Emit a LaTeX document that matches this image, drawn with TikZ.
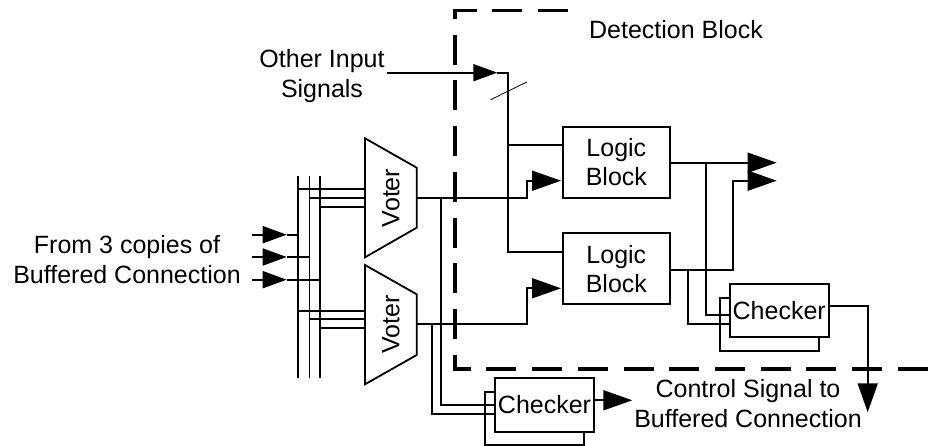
\documentclass[tikz,border=0pt]{standalone}
\usepackage{fontspec}
\setmainfont{Liberation Sans}
\usetikzlibrary{arrows.meta}
\tikzset{
  x=1pt,y=-1pt,
  wire/.style={line width=1.8pt,line join=miter},
  tipped/.style={wire,-{Triangle[length=29pt,width=20pt]}},
  tippedsmall/.style={wire,-{Triangle[length=24pt,width=17pt]}},
  block/.style={draw,wire,fill=white,inner sep=0pt,outer sep=0pt,align=center},
  logicblock/.style={block,minimum width=107.3pt,font=\fontsize{25}{29}\selectfont},
  checkbox/.style={block,minimum width=99pt,minimum height=53.3pt,font=\fontsize{25}{29}\selectfont},
  backbox/.style={draw,wire,fill=white,inner sep=0pt,outer sep=0pt,minimum width=99pt,minimum height=53.3pt},
  label/.style={inner sep=0pt,outer sep=0pt,align=center,font=\fontsize{25}{30}\selectfont},
  voter/.style={draw,wire,fill=white,line join=miter},
  region/.style={line width=3.5pt,dash pattern=on 30pt off 15.7pt}
}
\begin{document}
\begin{tikzpicture}
\useasboundingbox (0,0) rectangle (943,446);
% detection region
\draw[region] (568,10.7) -- (455,10.7) -- (455,369) -- (943,369);
% back boxes
\node[backbox] (chkAback) at (769.7,324.3) {};
\node[backbox] (chkBback) at (534.8,418.3) {};
% bus
\coordinate (busAtop) at (298,176); \coordinate (busAbot) at (298,378);
\coordinate (busBtop) at (309.5,176); \coordinate (busBbot) at (309.5,378);
\coordinate (busCtop) at (320,176); \coordinate (busCbot) at (320,378);
\draw[wire] (busAtop) -- (busAbot);
\draw[wire] (busBtop) -- (busBbot);
\draw[wire] (busCtop) -- (busCbot);
% voters
\coordinate (vAa) at (365,138.3); \coordinate (vAb) at (416.7,167.7);
\coordinate (vAc) at (416.7,227.7); \coordinate (vAd) at (365,257.3);
\coordinate (vBa) at (365,265); \coordinate (vBb) at (416.7,294.3);
\coordinate (vBc) at (416.7,355); \coordinate (vBd) at (365,384.3);
\draw[wire] (298,189.3) -- (365,189.3);
\draw[wire] (309.5,198.3) -- (365,198.3);
\draw[wire] (320,207.3) -- (365,207.3);
\draw[wire] (298,310.7) -- (365,310.7);
\draw[wire] (309.5,319.3) -- (365,319.3);
\draw[wire] (320,328.3) -- (365,328.3);
\draw[voter] (vAa) -- (vAb) -- (vAc) -- (vAd) -- cycle;
\draw[voter] (vBa) -- (vBb) -- (vBc) -- (vBd) -- cycle;
\node[label,rotate=90] (voterA) at (391,198) {Voter};
\node[label,rotate=90] (voterB) at (391,324.5) {Voter};
% input arrows
\coordinate (inA) at (252.3,234.7); \coordinate (tipA) at (286.7,234.7); \coordinate (endA) at (298,234.7);
\coordinate (inB) at (252.3,257); \coordinate (tipB) at (286.7,257); \coordinate (endB) at (309.5,257);
\coordinate (inC) at (252.3,279.7); \coordinate (tipC) at (286.7,279.7); \coordinate (endC) at (320,279.7);
\draw[tippedsmall] (inA) -- (tipA); \draw[wire] (tipA) -- (endA);
\draw[tippedsmall] (inB) -- (tipB); \draw[wire] (tipB) -- (endB);
\draw[tippedsmall] (inC) -- (tipC); \draw[wire] (tipC) -- (endC);
% logic blocks
\node[logicblock,minimum height=71.6pt] (logicA) at (616.35,162.5) {Logic\\Block};
\node[logicblock,minimum height=70.7pt] (logicB) at (616.35,268.65) {Logic\\Block};
% other inputs
\coordinate (oiStart) at (386.7,72.7); \coordinate (oiTip) at (497.3,72.7);
\coordinate (oiCorner) at (508.3,72.7); \coordinate (oiDown) at (508.3,252.3);
\coordinate (oiBranch) at (508.3,144.7);
\coordinate (slashA) at (490.7,99.7); \coordinate (slashB) at (526.7,82);
\draw[tippedsmall] (oiStart) -- (oiTip);
\draw[wire] (oiTip) -- (oiCorner) -- (oiDown) -- (oiDown -| logicB.west);
\draw[wire] (oiBranch) -- (oiBranch -| logicA.west);
\draw[line width=0.8pt] (slashA) -- (slashB);
% voter outputs
\coordinate (vAout) at (416.7,198.3); \coordinate (vBout) at (416.7,324.3);
\coordinate (vAup) at (526.7,198.3); \coordinate (vAupt) at (526.7,180.7);
\coordinate (vBup) at (526.7,324.3); \coordinate (vBupt) at (526.7,288.3);
\draw[tipped] (vAout) -- (vAup) -- (vAupt) -- (561,180.7);
\draw[tipped] (vBout) -- (vBup) -- (vBupt) -- (561,288.3);
% right side
\coordinate (outA) at (776.7,162.7); \coordinate (outB) at (776.7,180.7);
\coordinate (loB) at (670,270.3); \coordinate (riseB) at (732.7,270.3); \coordinate (riseBt) at (732.7,180.7);
\draw[tipped] (logicA.east |- outA) -- (outA);
\draw[tipped] (loB) -- (riseB) -- (riseBt) -- (outB);
\coordinate (tapA) at (706,162.7); \coordinate (tapAb) at (706,315.3);
\coordinate (tapB) at (688.3,270.3); \coordinate (tapBb) at (688.3,324.3);
\draw[wire] (tapA) -- (tapAb) -- (730,315.3);
\draw[wire] (tapB) -- (tapBb) -- (730,324.3);
% lower checker feeds
\coordinate (fbA) at (441,198.3); \coordinate (fbAb) at (441,405);
\coordinate (fbB) at (432.3,324.3); \coordinate (fbBb) at (432.3,413.7);
\draw[wire] (fbA) -- (fbAb) -- (495,405);
\draw[wire] (fbB) -- (fbBb) -- (495,413.7);
% checkers
\node[checkbox] (chkA) at (779.2,310.65) {Checker};
\node[checkbox] (chkB) at (544.5,405) {Checker};
\coordinate (chkAturn) at (867.7,305.7); \coordinate (chkAtip) at (867.7,412.3);
\draw[tipped] (chkA.east |- chkAturn) -- (chkAturn) -- (chkAtip);
\coordinate (chkBtip) at (632.3,400.3);
\draw[tipped] (chkB.east |- chkBtip) -- (chkBtip);
% labels
\node[label] (detect) at (676,30) {Detection Block};
\node[label] (other) at (322,76.5) {Other Input\\Signals};
\node[label] (from) at (127,259.5) {From 3 copies of\\Buffered Connection};
\node[label] (control) at (748,404) {Control Signal to\\Buffered Connection};
\end{tikzpicture}
\end{document}
